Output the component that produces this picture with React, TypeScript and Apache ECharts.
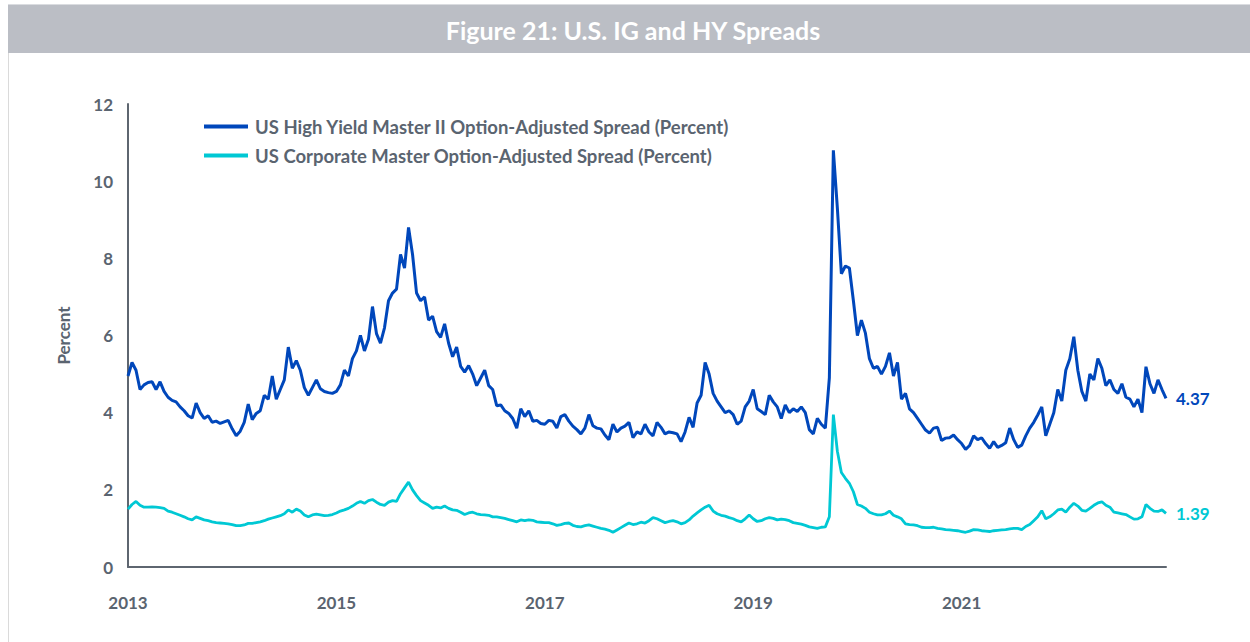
import React, { useEffect, useRef } from "react";
import * as echarts from "echarts";

// US High Yield Master II OAS (percent), ~2-week steps from mid-2013
const hySpread: number[] = [
  4.95, 5.3, 5.1, 4.6, 4.72, 4.78, 4.8, 4.6, 4.8, 4.55,
  4.4, 4.32, 4.28, 4.15, 4.05, 3.92, 3.86, 4.25, 4.0, 3.85,
  3.92, 3.75, 3.78, 3.72, 3.76, 3.8, 3.58, 3.4, 3.52, 3.75,
  4.22, 3.82, 3.98, 4.05, 4.45, 4.35, 4.95, 4.35, 4.6, 4.85,
  5.7, 5.15, 5.35, 5.1, 4.65, 4.45, 4.65, 4.85, 4.62, 4.55,
  4.52, 4.5, 4.55, 4.72, 5.1, 4.95, 5.4, 5.6, 6.0, 5.6,
  5.9, 6.75, 6.05, 5.8, 6.2, 6.9, 7.1, 7.2, 8.1, 7.75,
  8.8, 8.1, 7.1, 6.9, 7.0, 6.4, 6.5, 6.1, 5.95, 6.3,
  5.8, 5.45, 5.7, 5.2, 5.05, 5.22, 5.0, 4.7, 4.9, 5.1,
  4.7, 4.6, 4.18, 4.2, 4.05, 3.98, 3.85, 3.6, 4.1, 3.9,
  4.05, 3.78, 3.8, 3.72, 3.7, 3.8, 3.78, 3.6, 3.9, 3.95,
  3.78, 3.65, 3.56, 3.45, 3.6, 3.95, 3.66, 3.6, 3.58, 3.42,
  3.3, 3.7, 3.5, 3.6, 3.65, 3.75, 3.35, 3.5, 3.45, 3.7,
  3.5, 3.4, 3.75, 3.62, 3.45, 3.5, 3.48, 3.45, 3.25, 3.5,
  3.88, 3.62, 4.25, 4.45, 5.3, 5.0, 4.5, 4.3, 4.15, 4.0,
  4.05, 3.95, 3.7, 3.78, 4.15, 4.3, 4.6, 4.1, 4.03, 3.95,
  4.45, 4.28, 4.15, 3.85, 4.2, 4.0, 4.1, 4.03, 4.15, 4.0,
  3.56, 3.45, 3.85, 3.7, 3.6, 4.9, 10.8, 9.3, 7.6, 7.8,
  7.75, 6.9, 6.0, 6.4, 6.06, 5.4, 5.15, 5.2, 5.0, 5.2,
  5.55, 4.95, 5.3, 4.35, 4.5, 4.1, 4.0, 3.85, 3.7, 3.55,
  3.47, 3.6, 3.62, 3.28, 3.34, 3.35, 3.42, 3.3, 3.2, 3.05,
  3.15, 3.4, 3.3, 3.35, 3.2, 3.08, 3.25, 3.1, 3.15, 3.22,
  3.6, 3.3, 3.1, 3.16, 3.4, 3.6, 3.75, 3.94, 4.15, 3.4,
  3.7, 4.0, 4.6, 4.3, 5.1, 5.4, 5.97, 5.1, 4.55, 4.3,
  5.0, 4.85, 5.4, 5.15, 4.7, 4.85, 4.6, 4.5, 4.75, 4.4,
  4.35, 4.15, 4.35, 4.0, 5.19, 4.75, 4.5, 4.85, 4.6, 4.37,
];

// US Corporate Master OAS (percent)
const igSpread: number[] = [
  1.5, 1.62, 1.7, 1.6, 1.55, 1.55, 1.56, 1.55, 1.54, 1.52,
  1.45, 1.42, 1.38, 1.34, 1.3, 1.25, 1.22, 1.3, 1.26, 1.22,
  1.2, 1.17, 1.15, 1.14, 1.13, 1.12, 1.1, 1.07, 1.07, 1.09,
  1.13, 1.13, 1.15, 1.17, 1.2, 1.24, 1.27, 1.3, 1.33, 1.38,
  1.48, 1.42, 1.5, 1.45, 1.35, 1.3, 1.35, 1.37, 1.35, 1.33,
  1.34, 1.36, 1.4, 1.45, 1.48, 1.52, 1.58, 1.65, 1.7, 1.65,
  1.72, 1.75, 1.68, 1.62, 1.6, 1.68, 1.72, 1.7, 1.9, 2.05,
  2.2, 2.0, 1.85, 1.72, 1.66, 1.6, 1.52, 1.55, 1.53, 1.58,
  1.52, 1.48, 1.47, 1.42, 1.36, 1.4, 1.42, 1.38, 1.36, 1.35,
  1.34, 1.3, 1.3, 1.28, 1.26, 1.23, 1.2, 1.17, 1.22, 1.2,
  1.22, 1.21, 1.17, 1.16, 1.15, 1.15, 1.12, 1.08, 1.1, 1.13,
  1.14, 1.08, 1.05, 1.04, 1.07, 1.09, 1.06, 1.03, 1.0, 0.98,
  0.95, 0.9, 0.96, 1.02, 1.08, 1.14, 1.1, 1.12, 1.16, 1.14,
  1.2, 1.28, 1.25, 1.2, 1.15, 1.18, 1.2, 1.17, 1.12, 1.15,
  1.22, 1.32, 1.4, 1.48, 1.55, 1.6, 1.45, 1.38, 1.34, 1.32,
  1.28, 1.25, 1.2, 1.17, 1.25, 1.35, 1.25, 1.18, 1.2, 1.25,
  1.28, 1.26, 1.22, 1.24, 1.23, 1.2, 1.15, 1.13, 1.11, 1.08,
  1.04, 1.02, 1.0, 1.03, 1.04, 1.3, 3.95, 3.0, 2.45, 2.3,
  2.17, 1.95, 1.62, 1.58, 1.52, 1.42, 1.38, 1.35, 1.35, 1.38,
  1.45, 1.34, 1.3, 1.25, 1.12, 1.1, 1.09, 1.07, 1.03, 1.02,
  1.02, 1.03, 1.0, 0.99, 0.97, 0.96, 0.95, 0.94, 0.92, 0.9,
  0.93, 0.97, 0.96, 0.94, 0.93, 0.92, 0.94, 0.95, 0.96, 0.97,
  0.99, 1.0, 1.0, 0.97, 1.05, 1.1, 1.2, 1.3, 1.46, 1.25,
  1.3, 1.38, 1.48, 1.5, 1.42, 1.55, 1.65, 1.58, 1.47, 1.45,
  1.52, 1.6, 1.66, 1.69, 1.6, 1.55, 1.42, 1.4, 1.38, 1.36,
  1.3, 1.24, 1.25, 1.3, 1.62, 1.52, 1.45, 1.44, 1.48, 1.39,
];

const startDate = "2013-06-01";
const stepDays = 14;
const labelEvery = 52;
const categories: string[] = hySpread.map((_, i) => {
  const d = new Date(Date.parse(startDate + "T00:00:00Z") + i * stepDays * 86400000);
  return d.toISOString().slice(0, 10);
});

const yTicks = { min: 0, max: 12, interval: 2 };
const titleText = "Figure 21: U.S. IG and HY Spreads";
const hyName = "US High Yield Master II Option-Adjusted Spread (Percent)";
const igName = "US Corporate Master Option-Adjusted Spread (Percent)";

const HY_COLOR = "#0047BB";
const IG_COLOR = "#00C8D4";
const AXIS_COLOR = "#5E6670";
const TEXT_COLOR = "#5A6470";
const FONT = "Lato, 'Noto Sans', sans-serif";

export default function App() {
  const ref = useRef<HTMLDivElement>(null);

  useEffect(() => {
    document.body.style.margin = "0";
    if (!ref.current) return;
    const chart = echarts.init(ref.current, undefined, { renderer: "svg" });
    chart.setOption({
      animation: false,
      backgroundColor: "#ffffff",
      textStyle: { fontFamily: FONT },
      graphic: [
        {
          type: "rect",
          left: 8,
          top: 5,
          shape: { width: 1242, height: 48 },
          style: { fill: "#BBBEC5" },
          silent: true,
        },
        {
          type: "rect",
          left: 8,
          top: 4,
          shape: { width: 1242, height: 1 },
          style: { fill: "#DADCE0" },
          silent: true,
        },
        {
          type: "rect",
          left: 8,
          top: 53,
          shape: { width: 1, height: 589 },
          style: { fill: "#DADADA" },
          silent: true,
        },
        {
          type: "text",
          x: 633,
          y: 30,
          style: {
            text: titleText,
            fill: "#ffffff",
            font: `bold 25px ${FONT}`,
            textAlign: "center",
            textVerticalAlign: "middle",
          },
          silent: true,
        },
      ],
      legend: {
        orient: "vertical",
        left: 199,
        top: 112,
        itemWidth: 44,
        itemHeight: 4,
        itemGap: 10,
        icon: "rect",
        textStyle: {
          color: TEXT_COLOR,
          fontSize: 18.5,
          fontWeight: "bold",
          fontFamily: FONT,
          lineHeight: 19,
          padding: [0, 0, 0, 2],
        },
        data: [
          { name: hyName, itemStyle: { color: HY_COLOR } },
          { name: igName, itemStyle: { color: IG_COLOR } },
        ],
      },
      grid: { left: 128, right: 84, top: 104, bottom: 75, containLabel: false },
      xAxis: {
        type: "category",
        data: categories,
        boundaryGap: false,
        axisLine: { show: true, lineStyle: { color: AXIS_COLOR, width: 2 } },
        axisTick: { show: false },
        splitLine: { show: false },
        axisLabel: {
          interval: (i: number) => i % labelEvery === 0,
          margin: 27,
          color: TEXT_COLOR,
          fontSize: 17,
          fontWeight: "bold",
          fontFamily: FONT,
          hideOverlap: false,
          formatter: (v: string) => v.slice(0, 4),
        },
      },
      yAxis: {
        type: "value",
        min: yTicks.min,
        max: yTicks.max,
        interval: yTicks.interval,
        name: "Percent",
        nameLocation: "middle",
        nameGap: 56,
        nameTextStyle: { color: TEXT_COLOR, fontSize: 17, fontWeight: "bold", fontFamily: FONT },
        axisLine: { show: true, lineStyle: { color: AXIS_COLOR, width: 2 } },
        axisTick: { show: false },
        splitLine: { show: false },
        axisLabel: {
          margin: 15,
          color: TEXT_COLOR,
          fontSize: 17,
          fontWeight: "bold",
          fontFamily: FONT,
        },
      },
      series: [
        {
          name: hyName,
          type: "line",
          data: hySpread,
          showSymbol: false,
          symbol: "none",
          color: HY_COLOR,
          lineStyle: { color: HY_COLOR, width: 3 },
          endLabel: {
            show: true,
            distance: 10,
            color: HY_COLOR,
            fontSize: 17,
            fontWeight: "bold",
            fontFamily: FONT,
            formatter: (p: any) => Number(p.value).toFixed(2),
          },
        },
        {
          name: igName,
          type: "line",
          data: igSpread,
          showSymbol: false,
          symbol: "none",
          color: IG_COLOR,
          lineStyle: { color: IG_COLOR, width: 2.8 },
          endLabel: {
            show: true,
            distance: 10,
            color: IG_COLOR,
            fontSize: 17,
            fontWeight: "bold",
            fontFamily: FONT,
            formatter: (p: any) => Number(p.value).toFixed(2),
          },
        },
      ],
    });
    return () => chart.dispose();
  }, []);

  return <div ref={ref} style={{ width: 1250, height: 642 }} />;
}
